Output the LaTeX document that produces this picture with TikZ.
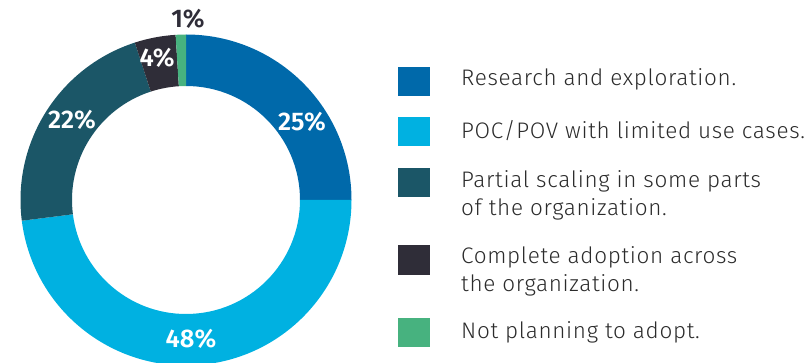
\documentclass[tikz,border=0pt]{standalone}
\usepackage{fontspec}
\setmainfont{Fira Sans Light}[BoldFont=Fira Sans SemiBold]
\usetikzlibrary{positioning,calc}

\definecolor{research}{HTML}{0069AA}
\definecolor{poc}{HTML}{00B1E1}
\definecolor{partial}{HTML}{1B5667}
\definecolor{complete}{HTML}{2F2D38}
\definecolor{notplan}{HTML}{47B27F}
\definecolor{legendtext}{HTML}{2B2B2B}

\tikzset{
  pct/.style={font=\fontsize{25.5}{27}\selectfont\bfseries, text=white, inner sep=0pt},
  keybox/.style={minimum width=32pt, minimum height=29pt, inner sep=0pt, anchor=south west},
  keytext/.style={font=\fontsize{22.5}{28}\selectfont\addfontfeatures{LetterSpace=3}, text=legendtext, align=left, anchor=base west, inner sep=0pt}
}

\begin{document}
\begin{tikzpicture}[x=1pt,y=1pt]

\def\ro{165.5} %outer radius
\def\ri{114} %inner radius

\useasboundingbox (0,0) rectangle (812,362);
\clip (0,0) rectangle (812,362);

\coordinate (C) at (186,162);

%donut
\fill[research] ($(C)+(0:\ro)$) arc (0:90:\ro) -- ($(C)+(90:\ri)$) arc (90:0:\ri) -- cycle;
\fill[poc] ($(C)+(-172.8:\ro)$) arc (-172.8:0:\ro) -- ($(C)+(0:\ri)$) arc (0:-172.8:\ri) -- cycle;
\fill[partial] ($(C)+(108:\ro)$) arc (108:187.2:\ro) -- ($(C)+(187.2:\ri)$) arc (187.2:108:\ri) -- cycle;
\fill[complete] ($(C)+(93.6:\ro)$) arc (93.6:108:\ro) -- ($(C)+(108:\ri)$) arc (108:93.6:\ri) -- cycle;
\fill[notplan] ($(C)+(90:\ro)$) arc (90:93.6:\ro) -- ($(C)+(93.6:\ri)$) arc (93.6:90:\ri) -- cycle;

%percentages
\node[pct] (p25) at (302,240) {25\%};
\node[pct] (p48) at (191,23) {48\%};
\node[pct] (p22) at (72,242.5) {22\%};
\node[pct] (p4) at (157,304) {4\%};
\node[pct, text=complete] (p1) at (188,343) {1\%};

%legend
\node[keybox, fill=research] (k1) at (398,266) {};
\node[keybox, fill=poc] (k2) at (398,215.3) {};
\node[keybox, fill=partial] (k3) at (398,164.3) {};
\node[keybox, fill=complete] (k4) at (398,87.3) {};
\node[keybox, fill=notplan] (k5) at (398,15.3) {};

\node[keytext] (t1) at (461,276) {Research and exploration.};
\node[keytext] (t2) at (461,223.7) {POC/POV with limited use cases.};
\node[keytext] (t3) at (461,146.3) {Partial scaling in some parts\\of the organization.};
\node[keytext] (t4) at (461,70.3) {Complete adoption across\\the organization.};
\node[keytext] (t5) at (461,23.7) {Not planning to adopt.};

\end{tikzpicture}
\end{document}
